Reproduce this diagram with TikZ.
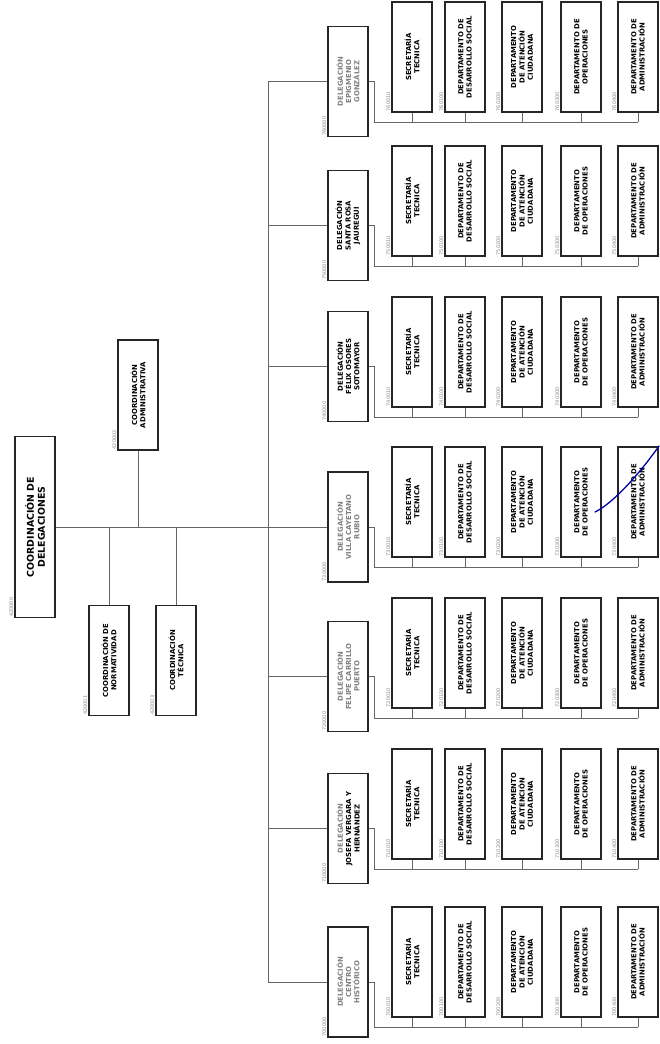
\documentclass[tikz,border=0pt]{standalone}
\usepackage{fontspec}
\setmainfont{DejaVu Sans}
\usetikzlibrary{calc}
\tikzset{
 box/.style={draw=black!85, line width=1.1pt, fill=white, rotate=90, minimum width=110pt, minimum height=40pt, inner sep=1pt, align=center, font=\fontsize{6.9}{8.3}\selectfont\bfseries},
 rootbox/.style={box, minimum width=181pt, font=\fontsize{9.4}{11}\selectfont\bfseries},
 code/.style={rotate=90, anchor=south west, inner sep=1pt, text=black!45, font=\fontsize{5}{6}\selectfont},
 conn/.style={draw=black!60, line width=0.8pt},
}
% one box of a delegation: name, x, y, code, text
\newcommand{\depto}[5]{ \node[box] (#1) at (#2,#3) {#5}; \node[code] at (#1.north west) {#4};}
% one delegation: name, y, y of its boxes, code, text, text colour, operaciones
\newcommand{\delegacion}[7]{
 \node[box, text=#6] (#1) at (348,#2) {#5};
 \node[code] at (#1.north west) {#40000};
 \draw[conn] (#1.north) -- (#1.north -| trk);
 \depto{#1a}{412}{#3}{#40010}{SECRETARÍA\\TECNICA}
 \depto{#1b}{465}{#3}{#40100}{DEPARTAMENTO DE\\DESARROLLO SOCIAL}
 \depto{#1c}{522}{#3}{#40200}{DEPARTAMENTO\\DE ATENCIÓN\\CIUDADANA}
 \depto{#1d}{581}{#3}{#40300}{#7}
 \depto{#1e}{638}{#3}{#40400}{DEPARTAMENTO DE\\ADMINISTRACIÓN}
 \coordinate (#1bus) at (374,#3+65);
 \draw[conn] (#1.south) -- (#1.south -| #1bus) -- (#1bus) -- (#1bus -| #1e.west);
 \draw[conn] (#1a.west) -- (#1a.west |- #1bus);
 \draw[conn] (#1b.west) -- (#1b.west |- #1bus);
 \draw[conn] (#1c.west) -- (#1c.west |- #1bus);
 \draw[conn] (#1d.west) -- (#1d.west |- #1bus);
 \draw[conn] (#1e.west) -- (#1e.west |- #1bus);}

\begin{document}
\begin{tikzpicture}[x=1pt, y=-1pt]
\useasboundingbox[fill=white] (0,0) rectangle (659,1044);
% coordinacion
\node[rootbox] (root) at (35,527) {COORDINACIÓN DE\\DELEGACIONES};
\node[code] at (root.north west) {420000};
\node[box] (admin) at (138,395) {COORDINACIÓN\\ADMINISTRATIVA};
\node[code] at (admin.north west) {420002};
\node[box] (norm) at (109,660.5) {COORDINACIÓN DE\\NORMATIVIDAD};
\node[code] at (norm.north west) {420001};
\node[box] (tec) at (176,660.5) {COORDINACIÓN\\TÉCNICA};
\node[code] at (tec.north west) {420003};
\coordinate (trk) at (268,527);
\draw[conn] (root.south) -- (trk);
\draw[conn] (admin.west) -- (admin.west |- trk);
\draw[conn] (norm.east) -- (norm.east |- trk);
\draw[conn] (tec.east) -- (tec.east |- trk);
% delegaciones
\delegacion{epi}{81.5}{57}{76}{DELEGACIÓN\\EPIGMENIO\\GONZÁLEZ}{black!50}{DEPARTAMENTO DE\\OPERACIONES}
\delegacion{sro}{225.5}{201}{75}{DELEGACIÓN\\SANTA ROSA\\JAUREGUI}{black}{DEPARTAMENTO\\DE OPERACIONES}
\delegacion{fel}{366.5}{352}{74}{DELEGACIÓN\\FÉLIX OSORES\\SOTOMAYOR}{black}{DEPARTAMENTO\\DE OPERACIONES}
\delegacion{vca}{527}{502}{73}{DELEGACIÓN\\VILLA CAYETANO\\RUBIO}{black!50}{DEPARTAMENTO\\DE OPERACIONES}
\delegacion{fcp}{676.5}{653}{72}{DELEGACIÓN\\FELIPE CARRILLO\\PUERTO}{black!50}{DEPARTAMENTO\\DE OPERACIONES}
\delegacion{jvh}{828.5}{804}{71}{{\color{black!50}DELEGACIÓN}\\JOSEFA VERGARA Y\\HERNÁNDEZ}{black}{DEPARTAMENTO\\DE OPERACIONES}
\delegacion{cen}{982}{962}{70}{DELEGACIÓN\\CENTRO\\HISTÓRICO}{black!50}{DEPARTAMENTO\\DE OPERACIONES}
\draw[conn] (epi.north -| trk) -- (cen.north -| trk);
\draw[conn] (trk) -- (vca.north);
% pen stroke
\draw[blue!65!black, line width=1.3pt, line cap=round] (595,512) .. controls (610,505) and (635,480) .. (659,446);
\end{tikzpicture}
\end{document}
